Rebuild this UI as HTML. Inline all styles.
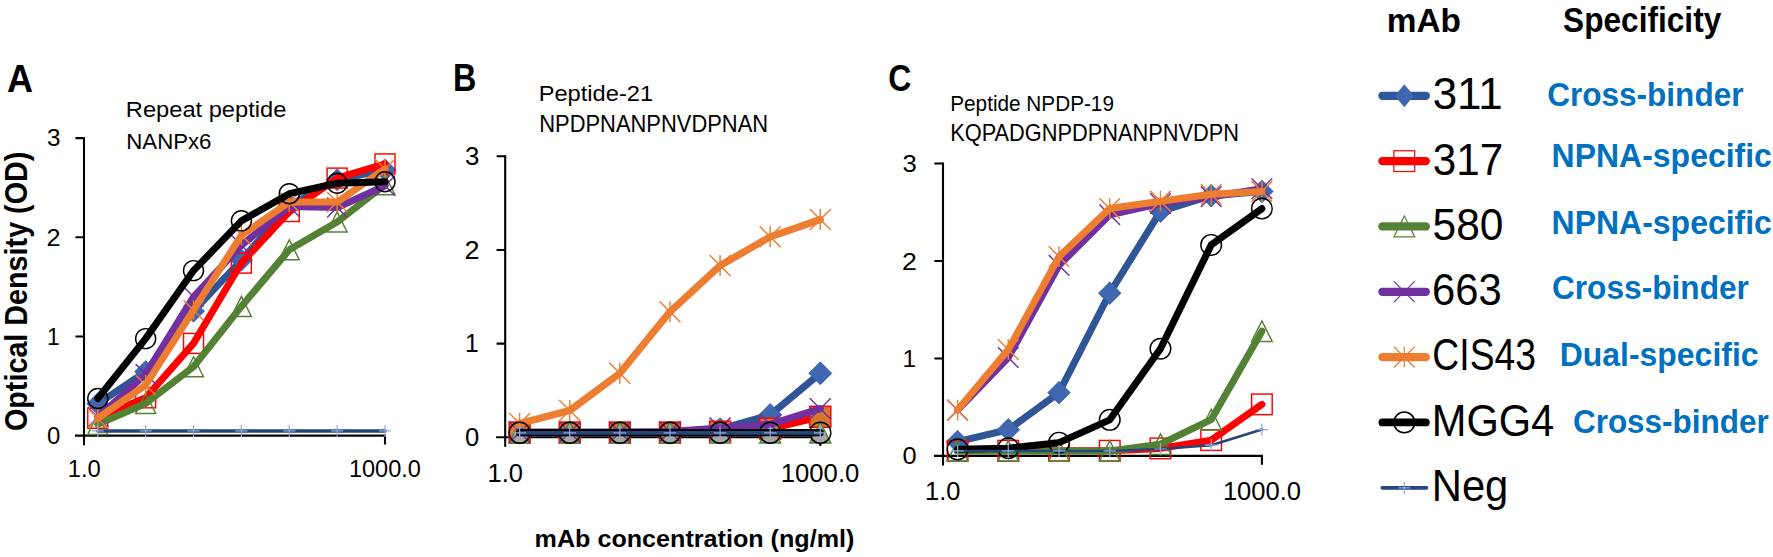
<!DOCTYPE html>
<html lang="en">
<head>
<meta charset="utf-8">
<title>ELISA binding of mAbs to peptides</title>
<style>
html,body{margin:0;padding:0;background:#fff;}
body{width:1773px;height:557px;overflow:hidden;}
svg{display:block;}
text{font-family:"Liberation Sans", sans-serif;}
</style>
</head>
<body>
<svg width="1773" height="557" viewBox="0 0 1773 557">
<rect width="1773" height="557" fill="#fff"/>
<g id="chartA">
<path d="M84 138.15L84 444.1M76 435.6L385 435.6" stroke="#000" stroke-width="2.1" fill="none" stroke-linecap="square"/>
<path d="M75.4 336.45L84 336.45M75.4 237.3L84 237.3M75.4 138.15L84 138.15M385 435.6L385 444.4" stroke="#000" stroke-width="2.1" fill="none"/>
<polyline points="97.77,403.87 145.64,371.65 193.52,311.17 241.39,260.1 289.26,205.57 337.13,179.79 385,169.88" fill="none" stroke="#2F5597" stroke-width="7" stroke-linejoin="round" stroke-linecap="round"/>
<path d="M97.77 392.87L108.77 403.87L97.77 414.87L86.77 403.87Z" stroke="#3A60A6" stroke-width="0.8" fill="#3F68B0"/>
<path d="M145.64 360.65L156.64 371.65L145.64 382.65L134.64 371.65Z" stroke="#3A60A6" stroke-width="0.8" fill="#3F68B0"/>
<path d="M193.52 300.17L204.52 311.17L193.52 322.17L182.52 311.17Z" stroke="#3A60A6" stroke-width="0.8" fill="#3F68B0"/>
<path d="M241.39 249.1L252.39 260.1L241.39 271.1L230.39 260.1Z" stroke="#3A60A6" stroke-width="0.8" fill="#3F68B0"/>
<path d="M289.26 194.57L300.26 205.57L289.26 216.57L278.26 205.57Z" stroke="#3A60A6" stroke-width="0.8" fill="#3F68B0"/>
<path d="M337.13 168.79L348.13 179.79L337.13 190.79L326.13 179.79Z" stroke="#3A60A6" stroke-width="0.8" fill="#3F68B0"/>
<path d="M385 158.88L396 169.88L385 180.88L374 169.88Z" stroke="#3A60A6" stroke-width="0.8" fill="#3F68B0"/>
<polyline points="97.77,418.25 145.64,397.82 193.52,343.39 241.39,263.08 289.26,211.52 337.13,178.11 385,163.93" fill="none" stroke="#FF0000" stroke-width="7" stroke-linejoin="round" stroke-linecap="round"/>
<rect x="87.77" y="408.25" width="20" height="20" stroke="#FF0000" stroke-width="1.45" fill="none"/>
<rect x="135.64" y="387.82" width="20" height="20" stroke="#FF0000" stroke-width="1.45" fill="none"/>
<rect x="183.52" y="333.39" width="20" height="20" stroke="#FF0000" stroke-width="1.45" fill="none"/>
<rect x="231.39" y="253.08" width="20" height="20" stroke="#FF0000" stroke-width="1.45" fill="none"/>
<rect x="279.26" y="201.52" width="20" height="20" stroke="#FF0000" stroke-width="1.45" fill="none"/>
<rect x="327.13" y="168.11" width="20" height="20" stroke="#FF0000" stroke-width="1.45" fill="none"/>
<rect x="375" y="153.93" width="20" height="20" stroke="#FF0000" stroke-width="1.45" fill="none"/>
<polyline points="97.77,424.4 145.64,403.48 193.52,366.79 241.39,306.41 289.26,249.79 337.13,221.93 385,184.75" fill="none" stroke="#548235" stroke-width="7" stroke-linejoin="round" stroke-linecap="round"/>
<path d="M97.77 414.4L107.77 434.4L87.77 434.4Z" stroke="#548235" stroke-width="1.45" fill="none"/>
<path d="M145.64 393.48L155.64 413.48L135.64 413.48Z" stroke="#548235" stroke-width="1.45" fill="none"/>
<path d="M193.52 356.79L203.52 376.79L183.52 376.79Z" stroke="#548235" stroke-width="1.45" fill="none"/>
<path d="M241.39 296.41L251.39 316.41L231.39 316.41Z" stroke="#548235" stroke-width="1.45" fill="none"/>
<path d="M289.26 239.79L299.26 259.79L279.26 259.79Z" stroke="#548235" stroke-width="1.45" fill="none"/>
<path d="M337.13 211.93L347.13 231.93L327.13 231.93Z" stroke="#548235" stroke-width="1.45" fill="none"/>
<path d="M385 174.75L395 194.75L375 194.75Z" stroke="#548235" stroke-width="1.45" fill="none"/>
<polyline points="97.77,417.26 145.64,374.13 193.52,296.79 241.39,245.23 289.26,206.56 337.13,207.56 385,185.74" fill="none" stroke="#7030A0" stroke-width="7" stroke-linejoin="round" stroke-linecap="round"/>
<path d="M87.77 407.26L107.77 427.26M87.77 427.26L107.77 407.26" stroke="#7030A0" stroke-width="1.45" fill="none"/>
<path d="M135.64 364.13L155.64 384.13M135.64 384.13L155.64 364.13" stroke="#7030A0" stroke-width="1.45" fill="none"/>
<path d="M183.52 286.79L203.52 306.79M183.52 306.79L203.52 286.79" stroke="#7030A0" stroke-width="1.45" fill="none"/>
<path d="M231.39 235.23L251.39 255.23M231.39 255.23L251.39 235.23" stroke="#7030A0" stroke-width="1.45" fill="none"/>
<path d="M279.26 196.56L299.26 216.56M279.26 216.56L299.26 196.56" stroke="#7030A0" stroke-width="1.45" fill="none"/>
<path d="M327.13 197.56L347.13 217.56M327.13 217.56L347.13 197.56" stroke="#7030A0" stroke-width="1.45" fill="none"/>
<path d="M375 175.74L395 195.74M375 195.74L395 175.74" stroke="#7030A0" stroke-width="1.45" fill="none"/>
<polyline points="97.77,418.25 145.64,385.03 193.52,310.18 241.39,235.32 289.26,202.1 337.13,202.1 385,168.89" fill="none" stroke="#ED7D31" stroke-width="7" stroke-linejoin="round" stroke-linecap="round"/>
<path d="M87.77 408.25L107.77 428.25M87.77 428.25L107.77 408.25M97.77 408.25L97.77 428.25" stroke="#ED7D31" stroke-width="1.45" fill="none"/>
<path d="M135.64 375.03L155.64 395.03M135.64 395.03L155.64 375.03M145.64 375.03L145.64 395.03" stroke="#ED7D31" stroke-width="1.45" fill="none"/>
<path d="M183.52 300.18L203.52 320.18M183.52 320.18L203.52 300.18M193.52 300.18L193.52 320.18" stroke="#ED7D31" stroke-width="1.45" fill="none"/>
<path d="M231.39 225.32L251.39 245.32M231.39 245.32L251.39 225.32M241.39 225.32L241.39 245.32" stroke="#ED7D31" stroke-width="1.45" fill="none"/>
<path d="M279.26 192.1L299.26 212.1M279.26 212.1L299.26 192.1M289.26 192.1L289.26 212.1" stroke="#ED7D31" stroke-width="1.45" fill="none"/>
<path d="M327.13 192.1L347.13 212.1M327.13 212.1L347.13 192.1M337.13 192.1L337.13 212.1" stroke="#ED7D31" stroke-width="1.45" fill="none"/>
<path d="M375 158.89L395 178.89M375 178.89L395 158.89M385 158.89L385 178.89" stroke="#ED7D31" stroke-width="1.45" fill="none"/>
<polyline points="97.77,398.52 145.64,338.63 193.52,270.61 241.39,220.84 289.26,193.67 337.13,183.26 385,181.78" fill="none" stroke="#000000" stroke-width="7" stroke-linejoin="round" stroke-linecap="round"/>
<circle cx="97.77" cy="398.52" r="10" stroke="#000000" stroke-width="1.45" fill="none"/>
<circle cx="145.64" cy="338.63" r="10" stroke="#000000" stroke-width="1.45" fill="none"/>
<circle cx="193.52" cy="270.61" r="10" stroke="#000000" stroke-width="1.45" fill="none"/>
<circle cx="241.39" cy="220.84" r="10" stroke="#000000" stroke-width="1.45" fill="none"/>
<circle cx="289.26" cy="193.67" r="10" stroke="#000000" stroke-width="1.45" fill="none"/>
<circle cx="337.13" cy="183.26" r="10" stroke="#000000" stroke-width="1.45" fill="none"/>
<circle cx="385" cy="181.78" r="10" stroke="#000000" stroke-width="1.45" fill="none"/>
<polyline points="97.77,430.94 145.64,430.94 193.52,430.94 241.39,430.94 289.26,430.94 337.13,430.94 385,430.94" fill="none" stroke="#264478" stroke-width="3.6" stroke-linejoin="round" stroke-linecap="round"/>
<path d="M91.77 430.94L103.77 430.94M97.77 424.94L97.77 436.94" stroke="#8FAADC" stroke-width="1.2" fill="none"/>
<path d="M139.64 430.94L151.64 430.94M145.64 424.94L145.64 436.94" stroke="#8FAADC" stroke-width="1.2" fill="none"/>
<path d="M187.52 430.94L199.52 430.94M193.52 424.94L193.52 436.94" stroke="#8FAADC" stroke-width="1.2" fill="none"/>
<path d="M235.39 430.94L247.39 430.94M241.39 424.94L241.39 436.94" stroke="#8FAADC" stroke-width="1.2" fill="none"/>
<path d="M283.26 430.94L295.26 430.94M289.26 424.94L289.26 436.94" stroke="#8FAADC" stroke-width="1.2" fill="none"/>
<path d="M331.13 430.94L343.13 430.94M337.13 424.94L337.13 436.94" stroke="#8FAADC" stroke-width="1.2" fill="none"/>
<path d="M379 430.94L391 430.94M385 424.94L385 436.94" stroke="#8FAADC" stroke-width="1.2" fill="none"/>
</g>
<g id="chartB">
<path d="M505.2 156.29L505.2 445.8M497.2 437.3L820.3 437.3" stroke="#000" stroke-width="2.1" fill="none" stroke-linecap="square"/>
<path d="M496.6 343.63L505.2 343.63M496.6 249.96L505.2 249.96M496.6 156.29L505.2 156.29M820.3 437.3L820.3 446.1" stroke="#000" stroke-width="2.1" fill="none"/>
<polyline points="519.62,432.62 569.73,432.62 619.85,432.62 669.96,432.62 720.07,429.15 770.19,415.01 820.3,373.32" fill="none" stroke="#2F5597" stroke-width="7.2" stroke-linejoin="round" stroke-linecap="round"/>
<path d="M519.62 421.12L531.12 432.62L519.62 444.12L508.12 432.62Z" stroke="#3A60A6" stroke-width="0.8" fill="#3F68B0"/>
<path d="M569.73 421.12L581.23 432.62L569.73 444.12L558.23 432.62Z" stroke="#3A60A6" stroke-width="0.8" fill="#3F68B0"/>
<path d="M619.85 421.12L631.35 432.62L619.85 444.12L608.35 432.62Z" stroke="#3A60A6" stroke-width="0.8" fill="#3F68B0"/>
<path d="M669.96 421.12L681.46 432.62L669.96 444.12L658.46 432.62Z" stroke="#3A60A6" stroke-width="0.8" fill="#3F68B0"/>
<path d="M720.07 417.65L731.57 429.15L720.07 440.65L708.57 429.15Z" stroke="#3A60A6" stroke-width="0.8" fill="#3F68B0"/>
<path d="M770.19 403.51L781.69 415.01L770.19 426.51L758.69 415.01Z" stroke="#3A60A6" stroke-width="0.8" fill="#3F68B0"/>
<path d="M820.3 361.82L831.8 373.32L820.3 384.82L808.8 373.32Z" stroke="#3A60A6" stroke-width="0.8" fill="#3F68B0"/>
<polyline points="519.62,432.52 569.73,432.52 619.85,432.52 669.96,432.52 720.07,431.68 770.19,428.68 820.3,416.79" fill="none" stroke="#FF0000" stroke-width="7.2" stroke-linejoin="round" stroke-linecap="round"/>
<rect x="509.12" y="422.02" width="21" height="21" stroke="#FF0000" stroke-width="1.45" fill="#D8762C"/>
<rect x="559.23" y="422.02" width="21" height="21" stroke="#FF0000" stroke-width="1.45" fill="#D8762C"/>
<rect x="609.35" y="422.02" width="21" height="21" stroke="#FF0000" stroke-width="1.45" fill="#D8762C"/>
<rect x="659.46" y="422.02" width="21" height="21" stroke="#FF0000" stroke-width="1.45" fill="#D8762C"/>
<rect x="709.57" y="421.18" width="21" height="21" stroke="#FF0000" stroke-width="1.45" fill="#D8762C"/>
<rect x="759.69" y="418.18" width="21" height="21" stroke="#FF0000" stroke-width="1.45" fill="#D8762C"/>
<rect x="809.8" y="406.29" width="21" height="21" stroke="#FF0000" stroke-width="1.45" fill="#D8762C"/>
<polyline points="519.62,432.52 569.73,432.52 619.85,432.52 669.96,432.52 720.07,432.52 770.19,432.52 820.3,432.52" fill="none" stroke="#548235" stroke-width="7.2" stroke-linejoin="round" stroke-linecap="round"/>
<path d="M519.62 422.02L530.12 443.02L509.12 443.02Z" stroke="#548235" stroke-width="1.45" fill="#A6A6A6"/>
<path d="M569.73 422.02L580.23 443.02L559.23 443.02Z" stroke="#548235" stroke-width="1.45" fill="#A6A6A6"/>
<path d="M619.85 422.02L630.35 443.02L609.35 443.02Z" stroke="#548235" stroke-width="1.45" fill="#A6A6A6"/>
<path d="M669.96 422.02L680.46 443.02L659.46 443.02Z" stroke="#548235" stroke-width="1.45" fill="#A6A6A6"/>
<path d="M720.07 422.02L730.57 443.02L709.57 443.02Z" stroke="#548235" stroke-width="1.45" fill="#A6A6A6"/>
<path d="M770.19 422.02L780.69 443.02L759.69 443.02Z" stroke="#548235" stroke-width="1.45" fill="#A6A6A6"/>
<path d="M820.3 422.02L830.8 443.02L809.8 443.02Z" stroke="#548235" stroke-width="1.45" fill="#A6A6A6"/>
<polyline points="519.62,432.15 569.73,432.15 619.85,432.15 669.96,431.68 720.07,428.12 770.19,424.37 820.3,408.64" fill="none" stroke="#7030A0" stroke-width="7.2" stroke-linejoin="round" stroke-linecap="round"/>
<path d="M509.12 421.65L530.12 442.65M509.12 442.65L530.12 421.65" stroke="#7030A0" stroke-width="1.45" fill="none"/>
<path d="M559.23 421.65L580.23 442.65M559.23 442.65L580.23 421.65" stroke="#7030A0" stroke-width="1.45" fill="none"/>
<path d="M609.35 421.65L630.35 442.65M609.35 442.65L630.35 421.65" stroke="#7030A0" stroke-width="1.45" fill="none"/>
<path d="M659.46 421.18L680.46 442.18M659.46 442.18L680.46 421.18" stroke="#7030A0" stroke-width="1.45" fill="none"/>
<path d="M709.57 417.62L730.57 438.62M709.57 438.62L730.57 417.62" stroke="#7030A0" stroke-width="1.45" fill="none"/>
<path d="M759.69 413.87L780.69 434.87M759.69 434.87L780.69 413.87" stroke="#7030A0" stroke-width="1.45" fill="none"/>
<path d="M809.8 398.14L830.8 419.14M809.8 419.14L830.8 398.14" stroke="#7030A0" stroke-width="1.45" fill="none"/>
<polyline points="519.62,423.53 569.73,410.51 619.85,373.32 669.96,311.78 720.07,265.6 770.19,236.85 820.3,219.52" fill="none" stroke="#ED7D31" stroke-width="7.2" stroke-linejoin="round" stroke-linecap="round"/>
<path d="M509.12 413.03L530.12 434.03M509.12 434.03L530.12 413.03M519.62 413.03L519.62 434.03" stroke="#ED7D31" stroke-width="1.45" fill="none"/>
<path d="M559.23 400.01L580.23 421.01M559.23 421.01L580.23 400.01M569.73 400.01L569.73 421.01" stroke="#ED7D31" stroke-width="1.45" fill="none"/>
<path d="M609.35 362.82L630.35 383.82M609.35 383.82L630.35 362.82M619.85 362.82L619.85 383.82" stroke="#ED7D31" stroke-width="1.45" fill="none"/>
<path d="M659.46 301.28L680.46 322.28M659.46 322.28L680.46 301.28M669.96 301.28L669.96 322.28" stroke="#ED7D31" stroke-width="1.45" fill="none"/>
<path d="M709.57 255.1L730.57 276.1M709.57 276.1L730.57 255.1M720.07 255.1L720.07 276.1" stroke="#ED7D31" stroke-width="1.45" fill="none"/>
<path d="M759.69 226.35L780.69 247.35M759.69 247.35L780.69 226.35M770.19 226.35L770.19 247.35" stroke="#ED7D31" stroke-width="1.45" fill="none"/>
<path d="M809.8 209.02L830.8 230.02M809.8 230.02L830.8 209.02M820.3 209.02L820.3 230.02" stroke="#ED7D31" stroke-width="1.45" fill="none"/>
<polyline points="519.62,432.71 569.73,432.71 619.85,432.71 669.96,432.71 720.07,432.71 770.19,432.71 820.3,432.71" fill="none" stroke="#000000" stroke-width="7.2" stroke-linejoin="round" stroke-linecap="round"/>
<circle cx="519.62" cy="432.71" r="10.5" stroke="#000000" stroke-width="1.45" fill="none"/>
<circle cx="569.73" cy="432.71" r="10.5" stroke="#000000" stroke-width="1.45" fill="none"/>
<circle cx="619.85" cy="432.71" r="10.5" stroke="#000000" stroke-width="1.45" fill="none"/>
<circle cx="669.96" cy="432.71" r="10.5" stroke="#000000" stroke-width="1.45" fill="none"/>
<circle cx="720.07" cy="432.71" r="10.5" stroke="#000000" stroke-width="1.45" fill="none"/>
<circle cx="770.19" cy="432.71" r="10.5" stroke="#000000" stroke-width="1.45" fill="none"/>
<circle cx="820.3" cy="432.71" r="10.5" stroke="#000000" stroke-width="1.45" fill="none"/>
<polyline points="519.62,432.9 569.73,432.9 619.85,432.9 669.96,432.9 720.07,432.9 770.19,432.9 820.3,432.9" fill="none" stroke="#264478" stroke-width="3.8" stroke-linejoin="round" stroke-linecap="round"/>
<path d="M513.32 432.9L525.92 432.9M519.62 426.6L519.62 439.2" stroke="#8FAADC" stroke-width="1.2" fill="none"/>
<path d="M563.43 432.9L576.03 432.9M569.73 426.6L569.73 439.2" stroke="#8FAADC" stroke-width="1.2" fill="none"/>
<path d="M613.55 432.9L626.15 432.9M619.85 426.6L619.85 439.2" stroke="#8FAADC" stroke-width="1.2" fill="none"/>
<path d="M663.66 432.9L676.26 432.9M669.96 426.6L669.96 439.2" stroke="#8FAADC" stroke-width="1.2" fill="none"/>
<path d="M713.77 432.9L726.37 432.9M720.07 426.6L720.07 439.2" stroke="#8FAADC" stroke-width="1.2" fill="none"/>
<path d="M763.89 432.9L776.49 432.9M770.19 426.6L770.19 439.2" stroke="#8FAADC" stroke-width="1.2" fill="none"/>
<path d="M814 432.9L826.6 432.9M820.3 426.6L820.3 439.2" stroke="#8FAADC" stroke-width="1.2" fill="none"/>
</g>
<g id="chartC">
<path d="M943 163.55L943 464.4M935 455.9L1261.9 455.9" stroke="#000" stroke-width="2.1" fill="none" stroke-linecap="square"/>
<path d="M934.4 358.45L943 358.45M934.4 261L943 261M934.4 163.55L943 163.55M1261.9 455.9L1261.9 464.7" stroke="#000" stroke-width="2.1" fill="none"/>
<polyline points="957.59,441.67 1008.31,429.78 1059.03,392.65 1109.75,293.16 1160.46,211.3 1211.18,195.71 1261.9,191.42" fill="none" stroke="#2F5597" stroke-width="7" stroke-linejoin="round" stroke-linecap="round"/>
<path d="M957.59 430.37L968.89 441.67L957.59 452.97L946.29 441.67Z" stroke="#3A60A6" stroke-width="0.8" fill="#3F68B0"/>
<path d="M1008.31 418.48L1019.61 429.78L1008.31 441.08L997.01 429.78Z" stroke="#3A60A6" stroke-width="0.8" fill="#3F68B0"/>
<path d="M1059.03 381.35L1070.33 392.65L1059.03 403.95L1047.73 392.65Z" stroke="#3A60A6" stroke-width="0.8" fill="#3F68B0"/>
<path d="M1109.75 281.86L1121.05 293.16L1109.75 304.46L1098.45 293.16Z" stroke="#3A60A6" stroke-width="0.8" fill="#3F68B0"/>
<path d="M1160.46 200L1171.76 211.3L1160.46 222.6L1149.16 211.3Z" stroke="#3A60A6" stroke-width="0.8" fill="#3F68B0"/>
<path d="M1211.18 184.41L1222.48 195.71L1211.18 207.01L1199.88 195.71Z" stroke="#3A60A6" stroke-width="0.8" fill="#3F68B0"/>
<path d="M1261.9 180.12L1273.2 191.42L1261.9 202.72L1250.6 191.42Z" stroke="#3A60A6" stroke-width="0.8" fill="#3F68B0"/>
<polyline points="957.59,450.74 1008.31,450.74 1059.03,450.74 1109.75,450.74 1160.46,448.4 1211.18,440.11 1261.9,404.35" fill="none" stroke="#FF0000" stroke-width="7" stroke-linejoin="round" stroke-linecap="round"/>
<rect x="947.29" y="440.44" width="20.6" height="20.6" stroke="#FF0000" stroke-width="1.45" fill="none"/>
<rect x="998.01" y="440.44" width="20.6" height="20.6" stroke="#FF0000" stroke-width="1.45" fill="none"/>
<rect x="1048.73" y="440.44" width="20.6" height="20.6" stroke="#FF0000" stroke-width="1.45" fill="none"/>
<rect x="1099.45" y="440.44" width="20.6" height="20.6" stroke="#FF0000" stroke-width="1.45" fill="none"/>
<rect x="1150.16" y="438.1" width="20.6" height="20.6" stroke="#FF0000" stroke-width="1.45" fill="none"/>
<rect x="1200.88" y="429.81" width="20.6" height="20.6" stroke="#FF0000" stroke-width="1.45" fill="none"/>
<rect x="1251.6" y="394.05" width="20.6" height="20.6" stroke="#FF0000" stroke-width="1.45" fill="none"/>
<polyline points="957.59,450.93 1008.31,450.93 1059.03,450.93 1109.75,450.93 1160.46,444.21 1211.18,419.65 1261.9,331.16" fill="none" stroke="#548235" stroke-width="7" stroke-linejoin="round" stroke-linecap="round"/>
<path d="M957.59 440.63L967.89 461.23L947.29 461.23Z" stroke="#548235" stroke-width="1.45" fill="none"/>
<path d="M1008.31 440.63L1018.61 461.23L998.01 461.23Z" stroke="#548235" stroke-width="1.45" fill="none"/>
<path d="M1059.03 440.63L1069.33 461.23L1048.73 461.23Z" stroke="#548235" stroke-width="1.45" fill="none"/>
<path d="M1109.75 440.63L1120.05 461.23L1099.45 461.23Z" stroke="#548235" stroke-width="1.45" fill="none"/>
<path d="M1160.46 433.91L1170.76 454.51L1150.16 454.51Z" stroke="#548235" stroke-width="1.45" fill="none"/>
<path d="M1211.18 409.35L1221.48 429.95L1200.88 429.95Z" stroke="#548235" stroke-width="1.45" fill="none"/>
<path d="M1261.9 320.86L1272.2 341.46L1251.6 341.46Z" stroke="#548235" stroke-width="1.45" fill="none"/>
<polyline points="957.59,410.1 1008.31,357.48 1059.03,265.39 1109.75,214.71 1160.46,203.5 1211.18,196.68 1261.9,188.69" fill="none" stroke="#7030A0" stroke-width="7" stroke-linejoin="round" stroke-linecap="round"/>
<path d="M947.29 399.8L967.89 420.4M947.29 420.4L967.89 399.8" stroke="#7030A0" stroke-width="1.45" fill="none"/>
<path d="M998.01 347.18L1018.61 367.78M998.01 367.78L1018.61 347.18" stroke="#7030A0" stroke-width="1.45" fill="none"/>
<path d="M1048.73 255.09L1069.33 275.69M1048.73 275.69L1069.33 255.09" stroke="#7030A0" stroke-width="1.45" fill="none"/>
<path d="M1099.45 204.41L1120.05 225.01M1099.45 225.01L1120.05 204.41" stroke="#7030A0" stroke-width="1.45" fill="none"/>
<path d="M1150.16 193.2L1170.76 213.8M1150.16 213.8L1170.76 193.2" stroke="#7030A0" stroke-width="1.45" fill="none"/>
<path d="M1200.88 186.38L1221.48 206.98M1200.88 206.98L1221.48 186.38" stroke="#7030A0" stroke-width="1.45" fill="none"/>
<path d="M1251.6 178.39L1272.2 198.99M1251.6 198.99L1272.2 178.39" stroke="#7030A0" stroke-width="1.45" fill="none"/>
<polyline points="957.59,410.1 1008.31,349.58 1059.03,256.61 1109.75,208.57 1160.46,201.17 1211.18,194.34 1261.9,191.42" fill="none" stroke="#ED7D31" stroke-width="7" stroke-linejoin="round" stroke-linecap="round"/>
<path d="M947.29 399.8L967.89 420.4M947.29 420.4L967.89 399.8M957.59 399.8L957.59 420.4" stroke="#ED7D31" stroke-width="1.45" fill="none"/>
<path d="M998.01 339.28L1018.61 359.88M998.01 359.88L1018.61 339.28M1008.31 339.28L1008.31 359.88" stroke="#ED7D31" stroke-width="1.45" fill="none"/>
<path d="M1048.73 246.31L1069.33 266.91M1048.73 266.91L1069.33 246.31M1059.03 246.31L1059.03 266.91" stroke="#ED7D31" stroke-width="1.45" fill="none"/>
<path d="M1099.45 198.27L1120.05 218.87M1099.45 218.87L1120.05 198.27M1109.75 198.27L1109.75 218.87" stroke="#ED7D31" stroke-width="1.45" fill="none"/>
<path d="M1150.16 190.87L1170.76 211.47M1150.16 211.47L1170.76 190.87M1160.46 190.87L1160.46 211.47" stroke="#ED7D31" stroke-width="1.45" fill="none"/>
<path d="M1200.88 184.04L1221.48 204.64M1200.88 204.64L1221.48 184.04M1211.18 184.04L1211.18 204.64" stroke="#ED7D31" stroke-width="1.45" fill="none"/>
<path d="M1251.6 181.12L1272.2 201.72M1251.6 201.72L1272.2 181.12M1261.9 181.12L1261.9 201.72" stroke="#ED7D31" stroke-width="1.45" fill="none"/>
<polyline points="957.59,449.37 1008.31,448.2 1059.03,442.65 1109.75,419.84 1160.46,348.7 1211.18,244.92 1261.9,208.57" fill="none" stroke="#000000" stroke-width="7" stroke-linejoin="round" stroke-linecap="round"/>
<circle cx="957.59" cy="449.37" r="10.3" stroke="#000000" stroke-width="1.45" fill="none"/>
<circle cx="1008.31" cy="448.2" r="10.3" stroke="#000000" stroke-width="1.45" fill="none"/>
<circle cx="1059.03" cy="442.65" r="10.3" stroke="#000000" stroke-width="1.45" fill="none"/>
<circle cx="1109.75" cy="419.84" r="10.3" stroke="#000000" stroke-width="1.45" fill="none"/>
<circle cx="1160.46" cy="348.7" r="10.3" stroke="#000000" stroke-width="1.45" fill="none"/>
<circle cx="1211.18" cy="244.92" r="10.3" stroke="#000000" stroke-width="1.45" fill="none"/>
<circle cx="1261.9" cy="208.57" r="10.3" stroke="#000000" stroke-width="1.45" fill="none"/>
<polyline points="957.59,450.93 1008.31,450.93 1059.03,450.93 1109.75,450.93 1160.46,448.98 1211.18,445.18 1261.9,429.59" fill="none" stroke="#264478" stroke-width="2.6" stroke-linejoin="round" stroke-linecap="round"/>
<path d="M951.41 450.93L963.77 450.93M957.59 444.75L957.59 457.11" stroke="#8FAADC" stroke-width="1.2" fill="none"/>
<path d="M1002.13 450.93L1014.49 450.93M1008.31 444.75L1008.31 457.11" stroke="#8FAADC" stroke-width="1.2" fill="none"/>
<path d="M1052.85 450.93L1065.21 450.93M1059.03 444.75L1059.03 457.11" stroke="#8FAADC" stroke-width="1.2" fill="none"/>
<path d="M1103.57 450.93L1115.93 450.93M1109.75 444.75L1109.75 457.11" stroke="#8FAADC" stroke-width="1.2" fill="none"/>
<path d="M1154.28 448.98L1166.64 448.98M1160.46 442.8L1160.46 455.16" stroke="#8FAADC" stroke-width="1.2" fill="none"/>
<path d="M1205 445.18L1217.36 445.18M1211.18 439L1211.18 451.36" stroke="#8FAADC" stroke-width="1.2" fill="none"/>
<path d="M1255.72 429.59L1268.08 429.59M1261.9 423.41L1261.9 435.77" stroke="#8FAADC" stroke-width="1.2" fill="none"/>
</g>
<g id="legend">
<path d="M1382.4 95.8L1425.8 95.8" stroke="#30569B" stroke-width="8.3" stroke-linecap="round"/>
<path d="M1404.3 84.3L1413.8 95.8L1404.3 107.3L1394.8 95.8Z" fill="#3F68B0"/>
<path d="M1382.4 161.13L1425.8 161.13" stroke="#FF0000" stroke-width="8.3" stroke-linecap="round"/>
<rect x="1393.9" y="150.73" width="20.8" height="20.8" stroke="#FF0000" stroke-width="1.2" fill="none"/>
<path d="M1382.4 226.46L1425.8 226.46" stroke="#548235" stroke-width="8.3" stroke-linecap="round"/>
<path d="M1404.3 216.06L1414.7 236.86L1393.9 236.86Z" stroke="#548235" stroke-width="1.2" fill="none"/>
<path d="M1382.4 291.79L1425.8 291.79" stroke="#7030A0" stroke-width="8.3" stroke-linecap="round"/>
<path d="M1393.9 281.39L1414.7 302.19M1393.9 302.19L1414.7 281.39" stroke="#7030A0" stroke-width="1.2" fill="none"/>
<path d="M1382.4 357.12L1425.8 357.12" stroke="#ED7D31" stroke-width="8.3" stroke-linecap="round"/>
<path d="M1393.9 346.72L1414.7 367.52M1393.9 367.52L1414.7 346.72M1404.3 346.72L1404.3 367.52" stroke="#ED7D31" stroke-width="1.2" fill="none"/>
<path d="M1382.4 422.45L1425.8 422.45" stroke="#000000" stroke-width="7.8" stroke-linecap="round"/>
<circle cx="1404.3" cy="422.45" r="10.4" stroke="#000000" stroke-width="1.5" fill="none"/>
<path d="M1382.3 487.78L1426.3 487.78" stroke="#27467F" stroke-width="3.8" stroke-linecap="round"/>
<path d="M1398.3 487.78L1410.3 487.78M1404.3 481.78L1404.3 493.78" stroke="#8FAADC" stroke-width="1.2" fill="none"/>
</g>
<g id="texts" font-family='"Liberation Sans", sans-serif'>
<text transform="translate(6.88 91.81) scale(0.9485 1)" font-size="37.99" font-weight="bold">A</text>
<text transform="translate(453 90.9) scale(0.8331 1)" font-size="38.84" font-weight="bold">B</text>
<text transform="translate(888.22 90.89) scale(0.8840 1)" font-size="36.27" font-weight="bold">C</text>
<text transform="translate(125.81 116.79) scale(1.0795 1)" font-size="21.94">Repeat peptide</text>
<text transform="translate(126.27 148.8) scale(1.0059 1)" font-size="22.1">NANPx6</text>
<text transform="translate(538.71 101) scale(1.0327 1)" font-size="22.9">Peptide-21</text>
<text transform="translate(539.25 131.7) scale(0.9515 1)" font-size="23.04">NPDPNANPNVDPNAN</text>
<text transform="translate(950.24 110.6) scale(0.9742 1)" font-size="21.3">Peptide NPDP-19</text>
<text transform="translate(950.16 141.4) scale(0.9286 1)" font-size="23.48">KQPADGNPDPNANPNVDPN</text>
<text transform="translate(534.56 546.88) scale(1.0165 1)" font-size="24.75" font-weight="bold">mAb concentration (ng/ml)</text>
<text transform="translate(27.19 431.05) rotate(-90) scale(0.9406 1)" font-size="30.56" font-weight="bold">Optical Density (OD)</text>
<text transform="translate(1386.73 31.53) scale(0.9838 1)" font-size="33.96" font-weight="bold">mAb</text>
<text transform="translate(1563.11 32.15) scale(0.9020 1)" font-size="35.07" font-weight="bold">Specificity</text>
<text transform="translate(1432.66 109.2) scale(0.9846 1)" font-size="44.64">311</text>
<text transform="translate(1432.72 174.5) scale(0.9456 1)" font-size="44.64">317</text>
<text transform="translate(1432.5 239.8) scale(0.9525 1)" font-size="44.64">580</text>
<text transform="translate(1432.11 305.1) scale(0.9346 1)" font-size="44.64">663</text>
<text transform="translate(1432.33 370.4) scale(0.8525 1)" font-size="43.77">CIS43</text>
<text transform="translate(1431.77 435.7) scale(0.9506 1)" font-size="43.77">MGG4</text>
<text transform="translate(1431.76 501) scale(0.9539 1)" font-size="43.77">Neg</text>
<text transform="translate(1547.24 105.56) scale(0.9410 1)" font-size="33.52" font-weight="bold" fill="#0070C0">Cross-binder</text>
<text transform="translate(1551.62 166.7) scale(0.9537 1)" font-size="33.53" font-weight="bold" fill="#0070C0">NPNA-specific</text>
<text transform="translate(1551.62 233.5) scale(0.9537 1)" font-size="33.53" font-weight="bold" fill="#0070C0">NPNA-specific</text>
<text transform="translate(1551.93 298.57) scale(0.9565 1)" font-size="33.1" font-weight="bold" fill="#0070C0">Cross-binder</text>
<text transform="translate(1559.72 366) scale(0.9464 1)" font-size="33.77" font-weight="bold" fill="#0070C0">Dual-specific</text>
<text transform="translate(1572.94 432.56) scale(0.9308 1)" font-size="33.8" font-weight="bold" fill="#0070C0">Cross-binder</text>
<text transform="translate(46.96 443.8) scale(1.0063 1)" font-size="23.77">0</text>
<text transform="translate(47.09 344.65) scale(0.9575 1)" font-size="23.77">1</text>
<text transform="translate(46.54 245.5) scale(1.0610 1)" font-size="23.77">2</text>
<text transform="translate(46.95 146.35) scale(1.0168 1)" font-size="23.77">3</text>
<text transform="translate(67.71 477.1) scale(0.9853 1)" font-size="24.2">1.0</text>
<text transform="translate(348.88 477.1) scale(0.9731 1)" font-size="24.2">1000.0</text>
<text transform="translate(464.91 446) scale(1.0139 1)" font-size="25.22">0</text>
<text transform="translate(464.96 352.33) scale(0.9754 1)" font-size="25.22">1</text>
<text transform="translate(464.45 258.66) scale(1.0690 1)" font-size="25.22">2</text>
<text transform="translate(464.9 164.99) scale(1.0244 1)" font-size="25.22">3</text>
<text transform="translate(487.49 482) scale(1.0050 1)" font-size="25.36">1.0</text>
<text transform="translate(780.77 482) scale(1.0127 1)" font-size="25.36">1000.0</text>
<text transform="translate(902.41 464.4) scale(1.0294 1)" font-size="24.64">0</text>
<text transform="translate(902.47 366.95) scale(0.9890 1)" font-size="24.64">1</text>
<text transform="translate(901.96 269.5) scale(1.0853 1)" font-size="24.64">2</text>
<text transform="translate(902.4 172.05) scale(1.0401 1)" font-size="24.64">3</text>
<text transform="translate(924.99 500.3) scale(1.0108 1)" font-size="25.22">1.0</text>
<text transform="translate(1222.88 500.3) scale(1.0144 1)" font-size="25.22">1000.0</text>
</g>
</svg>
</body>
</html>
